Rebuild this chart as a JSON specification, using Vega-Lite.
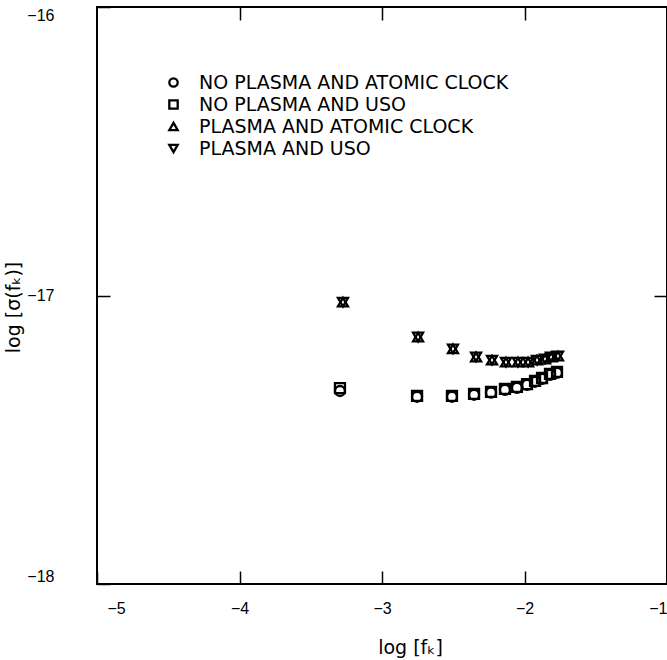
{
  "$schema": "https://vega.github.io/schema/vega-lite/v6.json",
  "width": 570,
  "height": 577,
  "autosize": {"type": "none"},
  "padding": {"left": 97, "top": 7, "right": 0, "bottom": 76},
  "background": "white",
  "config": {
    "view": {"stroke": "black", "strokeWidth": 2},
    "font": "DejaVu Sans",
    "axis": {
      "grid": false,
      "domain": true,
      "domainOpacity": 0,
      "labelOverlap": false,
      "tickColor": "black",
      "tickWidth": 1.5,
      "labelColor": "black",
      "labelFontSize": 16,
      "labelFont": "Liberation Sans",
      "titleColor": "black",
      "titleFontSize": 19,
      "titleFontWeight": "normal",
      "titleFont": "DejaVu Sans"
    }
  },
  "datasets": {
    "pts": [
      {"x": -3.295, "y": -17.331, "series": "NO PLASMA AND ATOMIC CLOCK"},
      {"x": -2.754, "y": -17.351, "series": "NO PLASMA AND ATOMIC CLOCK"},
      {"x": -2.509, "y": -17.351, "series": "NO PLASMA AND ATOMIC CLOCK"},
      {"x": -2.354, "y": -17.344, "series": "NO PLASMA AND ATOMIC CLOCK"},
      {"x": -2.235, "y": -17.337, "series": "NO PLASMA AND ATOMIC CLOCK"},
      {"x": -2.137, "y": -17.327, "series": "NO PLASMA AND ATOMIC CLOCK"},
      {"x": -2.053, "y": -17.320, "series": "NO PLASMA AND ATOMIC CLOCK"},
      {"x": -1.982, "y": -17.310, "series": "NO PLASMA AND ATOMIC CLOCK"},
      {"x": -1.926, "y": -17.299, "series": "NO PLASMA AND ATOMIC CLOCK"},
      {"x": -1.877, "y": -17.289, "series": "NO PLASMA AND ATOMIC CLOCK"},
      {"x": -1.821, "y": -17.275, "series": "NO PLASMA AND ATOMIC CLOCK"},
      {"x": -1.772, "y": -17.268, "series": "NO PLASMA AND ATOMIC CLOCK"},
      {"x": -3.295, "y": -17.321, "series": "NO PLASMA AND USO"},
      {"x": -2.754, "y": -17.348, "series": "NO PLASMA AND USO"},
      {"x": -2.509, "y": -17.348, "series": "NO PLASMA AND USO"},
      {"x": -2.354, "y": -17.341, "series": "NO PLASMA AND USO"},
      {"x": -2.235, "y": -17.334, "series": "NO PLASMA AND USO"},
      {"x": -2.137, "y": -17.324, "series": "NO PLASMA AND USO"},
      {"x": -2.053, "y": -17.317, "series": "NO PLASMA AND USO"},
      {"x": -1.982, "y": -17.307, "series": "NO PLASMA AND USO"},
      {"x": -1.926, "y": -17.296, "series": "NO PLASMA AND USO"},
      {"x": -1.877, "y": -17.286, "series": "NO PLASMA AND USO"},
      {"x": -1.821, "y": -17.272, "series": "NO PLASMA AND USO"},
      {"x": -1.772, "y": -17.265, "series": "NO PLASMA AND USO"},
      {"x": -3.274, "y": -17.023, "series": "PLASMA AND ATOMIC CLOCK"},
      {"x": -2.747, "y": -17.144, "series": "PLASMA AND ATOMIC CLOCK"},
      {"x": -2.502, "y": -17.185, "series": "PLASMA AND ATOMIC CLOCK"},
      {"x": -2.340, "y": -17.213, "series": "PLASMA AND ATOMIC CLOCK"},
      {"x": -2.228, "y": -17.224, "series": "PLASMA AND ATOMIC CLOCK"},
      {"x": -2.130, "y": -17.231, "series": "PLASMA AND ATOMIC CLOCK"},
      {"x": -2.046, "y": -17.231, "series": "PLASMA AND ATOMIC CLOCK"},
      {"x": -1.975, "y": -17.231, "series": "PLASMA AND ATOMIC CLOCK"},
      {"x": -1.912, "y": -17.224, "series": "PLASMA AND ATOMIC CLOCK"},
      {"x": -1.856, "y": -17.220, "series": "PLASMA AND ATOMIC CLOCK"},
      {"x": -1.814, "y": -17.213, "series": "PLASMA AND ATOMIC CLOCK"},
      {"x": -1.765, "y": -17.210, "series": "PLASMA AND ATOMIC CLOCK"},
      {"x": -3.274, "y": -17.023, "series": "PLASMA AND USO"},
      {"x": -2.747, "y": -17.144, "series": "PLASMA AND USO"},
      {"x": -2.502, "y": -17.185, "series": "PLASMA AND USO"},
      {"x": -2.340, "y": -17.213, "series": "PLASMA AND USO"},
      {"x": -2.228, "y": -17.224, "series": "PLASMA AND USO"},
      {"x": -2.130, "y": -17.231, "series": "PLASMA AND USO"},
      {"x": -2.046, "y": -17.231, "series": "PLASMA AND USO"},
      {"x": -1.975, "y": -17.231, "series": "PLASMA AND USO"},
      {"x": -1.912, "y": -17.224, "series": "PLASMA AND USO"},
      {"x": -1.856, "y": -17.220, "series": "PLASMA AND USO"},
      {"x": -1.814, "y": -17.213, "series": "PLASMA AND USO"},
      {"x": -1.765, "y": -17.210, "series": "PLASMA AND USO"}
    ]
  },
  "data": {"name": "pts"},
  "layer": [
    {
      "mark": {"type": "point", "filled": false, "color": "black", "opacity": 1, "size": 100},
      "encoding": {
        "x": {
          "field": "x", "type": "quantitative",
          "scale": {"domain": [-5, -1], "nice": false, "zero": false},
          "axis": {
            "orient": "bottom", "values": [-5, -4, -3, -2, -1], "format": ".0f",
            "offset": -13, "tickSize": 13, "labelPadding": 16,
            "labelOffset": {"condition": {"test": "datum.value == -5", "value": 10}, "value": 0},
            "title": "log [fₖ]", "titlePadding": 22, "titleX": 313
          }
        },
        "y": {
          "field": "y", "type": "quantitative",
          "scale": {"domain": [-18, -16], "nice": false, "zero": false},
          "axis": {
            "orient": "left", "values": [-18, -17, -16], "format": ".0f",
            "offset": -13, "tickSize": 13, "labelPadding": 43, "labelFlush": true,
            "title": "log [σ(fₖ)]", "titlePadding": 3, "titleY": 300
          }
        },
        "shape": {
          "field": "series", "type": "nominal",
          "scale": {
            "domain": ["NO PLASMA AND ATOMIC CLOCK", "NO PLASMA AND USO", "PLASMA AND ATOMIC CLOCK", "PLASMA AND USO"],
            "range": ["circle", "square", "triangle-up", "triangle-down"]
          },
          "legend": {
            "orient": "none", "legendX": 67, "legendY": 66, "title": null,
            "padding": 0, "symbolSize": 70, "symbolStrokeWidth": 1.1, "symbolStrokeColor": "black",
            "symbolFillColor": "transparent", "labelFontSize": 19, "labelColor": "black",
            "labelFont": "DejaVu Sans", "labelOffset": 16, "rowPadding": 2, "labelLimit": 600
          }
        },
        "strokeWidth": {
          "field": "series", "type": "nominal",
          "scale": {
            "domain": ["NO PLASMA AND ATOMIC CLOCK", "NO PLASMA AND USO", "PLASMA AND ATOMIC CLOCK", "PLASMA AND USO"],
            "range": [2.3, 2.3, 1.1, 1.1]
          },
          "legend": null
        }
      }
    },
    {
      "mark": {"type": "point", "opacity": 0},
      "encoding": {
        "x": {
          "field": "x", "type": "quantitative",
          "axis": {"orient": "top", "values": [-4, -3, -2], "labels": false, "offset": -13, "tickSize": 13, "title": null}
        },
        "y": {
          "field": "y", "type": "quantitative",
          "axis": {"orient": "right", "values": [-17], "labels": false, "offset": -13, "tickSize": 13, "title": null}
        }
      }
    }
  ],
  "resolve": {"axis": {"x": "independent", "y": "independent"}}
}
